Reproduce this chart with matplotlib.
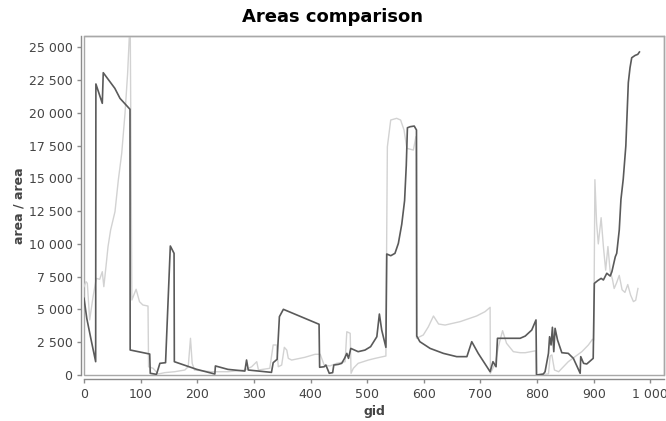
import matplotlib
matplotlib.use("Agg")
import matplotlib.pyplot as plt
from matplotlib.ticker import FuncFormatter
from matplotlib.patches import Rectangle

title = "Areas comparison"
x_label = "gid"
y_label = "area / area"

dark_x = [0, 5, 12, 20.6, 21, 32.3, 34, 54.4, 63.6, 81.2, 81.5, 116, 117, 128, 134, 144,
          152.4, 159, 159.5, 199, 231, 232, 254, 284, 287, 290, 331, 334, 341, 345, 352,
          415, 416, 424, 427, 433, 439, 441, 449, 455, 460, 464, 467, 471, 484, 496, 506,
          517, 521.5, 525.6, 533, 534.5, 541.6, 549, 555, 561, 566, 569, 571, 575.7, 583,
          587, 587.5, 593, 611, 634.5, 658, 676, 684.6, 696, 717, 722, 727.5, 730, 770, 779,
          790.5, 798, 799, 811, 814, 820, 822, 824.6, 827, 829.4, 831.7, 836, 843.6, 855,
          864, 876, 877, 882, 887.6, 899, 901, 907, 913, 917, 923, 929, 932, 938, 940.5,
          945, 948, 952, 956.6, 961, 964, 967, 973, 977.7, 980.6]
dark_y = [5850, 4300, 2800, 1015, 22200, 20725, 23060, 21870, 21100, 20270, 1907, 1600, 130,
          50, 890, 940, 9840, 9280, 1015, 430, 76, 690, 430, 300, 1144, 380, 200, 940, 1200,
          4450, 5010, 3870, 590, 630, 760, 130, 180, 760, 810, 890, 1270, 1650, 1270, 2030,
          1780, 1900, 2160, 2920, 4650, 3430, 2110, 9230, 9100, 9280, 10040, 11500, 13300,
          16000, 18860, 18940, 18990, 18690, 2970, 2540, 2030, 1650, 1400, 1400, 2540, 1650,
          250, 1015, 630, 2800, 2800, 2970, 3430, 4200, 0, 76, 250, 1650, 2920, 2290, 3640,
          1780, 3560, 2670, 1700, 1650, 1270, 130, 1400, 890, 840, 1270, 6990, 7200, 7370,
          7250, 7760, 7550, 7880, 9020, 9280, 11060, 13400, 14930, 17470, 22300, 23440,
          24200, 24380, 24460, 24640]

light_x = [0, 3.5, 5.9, 10, 16, 21.7, 27.7, 32.3, 35, 39.4, 42.4, 47, 54.7, 60.6, 66.6, 72.4,
           77, 80, 81.5, 84.5, 92, 98, 104, 113, 114, 122, 131, 142.5, 160, 178, 184, 188,
           191, 195, 225, 254, 284, 296, 305, 308, 328, 334, 340, 343, 349, 353.7, 358,
           360.7, 366.6, 390, 408, 417, 424, 434, 446, 461, 464, 470, 471.5, 475.5, 484, 502,
           514, 533, 534.5, 535.6, 541.5, 552, 559, 565, 570, 581.5, 586, 587, 599, 608, 617,
           626, 637.5, 664, 693, 708, 717, 717.5, 726, 731.6, 739, 746, 758, 770, 779, 797.6,
           798.5, 820, 823, 826, 830.6, 838, 855, 867, 879, 890.5, 897.6, 900, 902, 905, 908,
           913, 917, 921, 925, 929, 933, 936, 940, 945, 950, 955, 960, 965, 970, 974, 978]
light_y = [6740, 7120, 6990, 4200, 5970, 7370, 7300, 7880, 6740, 8520, 9790, 11060, 12460,
           14870, 16910, 19960, 23000, 25800, 27500, 5720, 6540, 5590, 5340, 5260, 630, 510,
           76, 180, 250, 380, 630, 2800, 890, 380, 250, 250, 380, 630, 1015, 380, 510, 2290,
           2290, 630, 760, 2110, 1900, 1270, 1140, 1350, 1580, 1580, 760, 690, 890, 1015,
           3300, 3180, 130, 510, 890, 1140, 1270, 1450, 11060, 17410, 19450, 19580, 19450,
           18690, 17290, 17160, 18180, 2800, 3050, 3680, 4500, 3890, 3810, 4070, 4500, 4830,
           5160, 130, 890, 2160, 3380, 2420, 1780, 1700, 1700, 1850, 0, 76, 1450, 1530, 380,
           250, 1015, 1400, 1780, 2290, 2720, 2670, 14900, 11600, 10000, 12000, 9800, 8000,
           9800, 7900, 7300, 6600, 7000, 7600, 6500, 6300, 6900, 6100, 5600, 5700, 6600]

x_ticks = [0, 100, 200, 300, 400, 500, 600, 700, 800, 900, 1000]
y_ticks = [0, 2500, 5000, 7500, 10000, 12500, 15000, 17500, 20000, 22500, 25000]

plt.rcParams['font.family'] = ['DejaVu Sans']

fig = plt.figure(figsize=(6.66, 4.21), dpi=100)
ax = fig.add_axes([84 / 666, 46 / 421, 580 / 666, 339 / 421])

ax.plot(light_x, light_y, color='#d2d2d2', lw=1.0, zorder=2)
ax.plot(dark_x, dark_y, color='#5a5a5a', lw=1.2, zorder=3)

ax.set_xlim(0, 1024)
ax.set_ylim(0, 25860)


def fmt(v, pos):
    return f"{int(round(v)):,}".replace(",", " ")


ax.set_xticks(x_ticks)
ax.set_yticks(y_ticks)
ax.xaxis.set_major_formatter(FuncFormatter(fmt))
ax.yaxis.set_major_formatter(FuncFormatter(fmt))

for s in ['top', 'right']:
    ax.spines[s].set_color('#a8a8a8')
    ax.spines[s].set_linewidth(1.0)
ax.spines['left'].set_position(('outward', 2.2))
ax.spines['bottom'].set_position(('outward', 3.0))
for s in ['left', 'bottom']:
    ax.spines[s].set_color('#8c8c8c')
    ax.spines[s].set_linewidth(1.0)

ax.add_patch(Rectangle((0, 0), 1, 1, transform=ax.transAxes, fill=False,
                       edgecolor='#a8a8a8', lw=1.0, zorder=1, clip_on=False))

ax.tick_params(axis='both', direction='out', length=3, width=1, color='#8c8c8c',
               labelsize=9, labelcolor='#444444', pad=3)

ax.set_xlabel(x_label, fontsize=9, fontweight='bold', color='#444444', labelpad=3)
ax.set_ylabel(y_label, fontsize=9, fontweight='bold', color='#444444', labelpad=2)
fig.text(0.5, 1 - 17 / 421, title, fontsize=13, fontweight='bold',
         ha='center', va='center')

fig.savefig("out.png", dpi=100)
